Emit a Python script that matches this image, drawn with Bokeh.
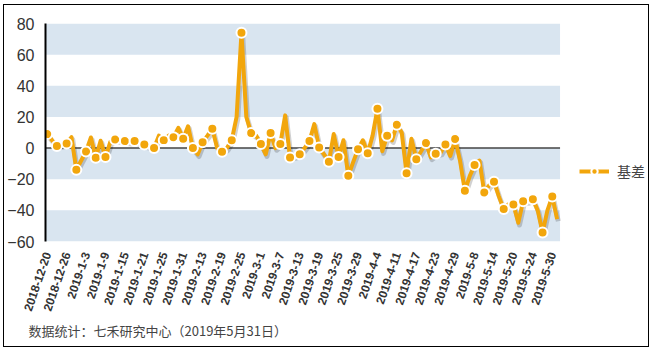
from bokeh.plotting import figure
from bokeh.layouts import column
from bokeh.models import (Range1d, FixedTicker, BoxAnnotation, Legend, LegendItem, Title,
                          CDSView, IndexFilter, ColumnDataSource)
from bokeh.transform import dodge
from bokeh.embed import file_html
from bokeh.resources import INLINE

dates = [
    "2018-12-20", "2018-12-21", "2018-12-24", "2018-12-25", "2018-12-26", "2018-12-27", "2018-12-28",
    "2019-1-2", "2019-1-3", "2019-1-4", "2019-1-7", "2019-1-8", "2019-1-9", "2019-1-10", "2019-1-11",
    "2019-1-14", "2019-1-15", "2019-1-16", "2019-1-17", "2019-1-18", "2019-1-21", "2019-1-22",
    "2019-1-23", "2019-1-24", "2019-1-25", "2019-1-28", "2019-1-29", "2019-1-30", "2019-1-31",
    "2019-2-1", "2019-2-11", "2019-2-12", "2019-2-13", "2019-2-14", "2019-2-15", "2019-2-18",
    "2019-2-19", "2019-2-20", "2019-2-21", "2019-2-22", "2019-2-25", "2019-2-26", "2019-2-27", "2019-2-28",
    "2019-3-1", "2019-3-4", "2019-3-5", "2019-3-6", "2019-3-7", "2019-3-8", "2019-3-11", "2019-3-12",
    "2019-3-13", "2019-3-14", "2019-3-15", "2019-3-18", "2019-3-19", "2019-3-20", "2019-3-21",
    "2019-3-22", "2019-3-25", "2019-3-26", "2019-3-27", "2019-3-28", "2019-3-29",
    "2019-4-1", "2019-4-2", "2019-4-3", "2019-4-4", "2019-4-8", "2019-4-9", "2019-4-10", "2019-4-11",
    "2019-4-12", "2019-4-15", "2019-4-16", "2019-4-17", "2019-4-18", "2019-4-19", "2019-4-22",
    "2019-4-23", "2019-4-24", "2019-4-25", "2019-4-26", "2019-4-29", "2019-4-30",
    "2019-5-6", "2019-5-7", "2019-5-8", "2019-5-9", "2019-5-10", "2019-5-13", "2019-5-14", "2019-5-15",
    "2019-5-16", "2019-5-17", "2019-5-20", "2019-5-21", "2019-5-22", "2019-5-23", "2019-5-24",
    "2019-5-27", "2019-5-28", "2019-5-29", "2019-5-30", "2019-5-31",
]

basis = [
    9, 5, 1.3, 2, 3, 7, -14, -8, -2.2, 6.8,
    -6.2, 4.7, -5.8, 4, 5.5, 5, 4.5, 4, 4.5, 3.5,
    2.3, 1, 0, 8, 5.1, 8, 7, 13, 6, 14,
    0, -4, 3.8, 8, 12.4, 0, -2.4, 0, 5.1, 20,
    74, 20, 9.6, 8, 2.6, -4, 9.6, 0, 2.6, 21,
    -6, -5, -4, 0, 4.5, 15.4, 0.4, -4, -8.8, 9,
    -5.8, 5, -17.8, -9, -0.7, 5, -3.4, 8, 25.2, -2,
    7.9, 5, 15, 10, -16.1, 6, -7.1, -2, 3.2, -6,
    -3.7, -3, 2.3, -5, 5.8, -8, -27.4, -18, -10.9, -8,
    -28.5, -24, -21.6, -31, -39.2, -36, -36.2, -48, -34.1, -34,
    -32.8, -40, -54.2, -40, -31.1, -45.6,
]

y_ticks = [-60, -40, -20, 0, 20, 40, 60, 80]
label_step = 4
series_name = "基差"
footnote = "数据统计：七禾研究中心（2019年5月31日）"

ORANGE = "#f2a60c"
BAND = "#d9e5f0"
idx = list(range(len(dates)))
src = ColumnDataSource(dict(x=idx, y=basis, date=dates))

W, H = 644, 341
ML, MR, MT, MB = 35, 2, 18, 105
PX_PER_IDX = 4.905
x_start = -0.35
x_plot_end = len(dates) - 1 + 0.6          # right edge of the plotting area
x_end = x_start + (W - ML - MR) / PX_PER_IDX  # extra room on the right for the legend

p = figure(width=W, height=H, output_backend="svg", toolbar_location=None,
           x_range=Range1d(x_start, x_end), y_range=Range1d(y_ticks[0], y_ticks[-1]),
           min_border_left=ML, min_border_right=MR, min_border_top=MT, min_border_bottom=MB)
p.outline_line_color = None
p.background_fill_color = "white"
p.border_fill_color = "white"
p.xgrid.visible = False
p.ygrid.visible = False

# alternating horizontal bands (from the y ticks)
for lo, hi in zip(y_ticks[0::2], y_ticks[1::2]):
    p.add_layout(BoxAnnotation(bottom=lo, top=hi, right=x_plot_end, fill_color=BAND,
                               fill_alpha=1.0, line_color=None, level="underlay"))

# zero reference line across the plotting area
p.segment(x0=[x_start], y0=[0], x1=[x_plot_end], y1=[0], line_color="#444444", line_width=1.5)

p.yaxis.ticker = FixedTicker(ticks=y_ticks)
p.yaxis.axis_line_color = "black"
p.yaxis.axis_line_width = 2
p.yaxis.major_tick_line_color = None
p.yaxis.minor_tick_line_color = None
p.yaxis.major_label_text_font = "Liberation Sans"
p.yaxis.major_label_text_font_size = "16px"
p.yaxis.major_label_text_color = "#333333"
p.yaxis.major_label_standoff = 5

tick_idx = idx[::label_step]
p.xaxis.ticker = FixedTicker(ticks=tick_idx)
p.xaxis.major_label_overrides = {i: dates[i] for i in tick_idx}
p.xaxis.axis_line_color = None
p.xaxis.major_tick_line_color = None
p.xaxis.minor_tick_line_color = None
p.xaxis.major_label_orientation = 1.24
p.xaxis.major_label_text_font = "Liberation Sans"
p.xaxis.major_label_text_font_style = "bold"
p.xaxis.major_label_text_font_size = "12px"
p.xaxis.major_label_text_color = "#333333"
p.xaxis.major_label_standoff = 5

p.line(x=dodge("x", 0.25), y=dodge("y", -1.4), source=src, line_color="black",
       line_alpha=0.18, line_width=5, line_join="round")
line_r = p.line("x", "y", source=src, line_color=ORANGE, line_width=4, line_join="round")
view = CDSView(filter=IndexFilter(list(range(0, len(idx), 2))))
scat_r = p.scatter("x", "y", source=src, view=view, size=10, fill_color=ORANGE,
                   line_color="white", line_width=2)

legend = Legend(items=[LegendItem(label=series_name, renderers=[line_r, scat_r])],
                location=(534, 60), border_line_color=None, background_fill_alpha=0,
                glyph_width=30, glyph_height=16, label_standoff=8, margin=0, padding=0,
                label_text_font="Noto Sans CJK SC", label_text_font_size="14px",
                label_text_color="#444444")
p.add_layout(legend, "center")

note = Title(text=footnote, align="left", offset=-17, standoff=5,
             text_font="Noto Sans CJK SC", text_font_size="13px", text_color="#444444",
             text_font_style="normal")
p.add_layout(note, "below")

layout = column(p, styles={"margin-left": "3px", "margin-top": "4px", "border": "1px solid #000"})
open("out.html", "w").write(file_html(layout, INLINE))
